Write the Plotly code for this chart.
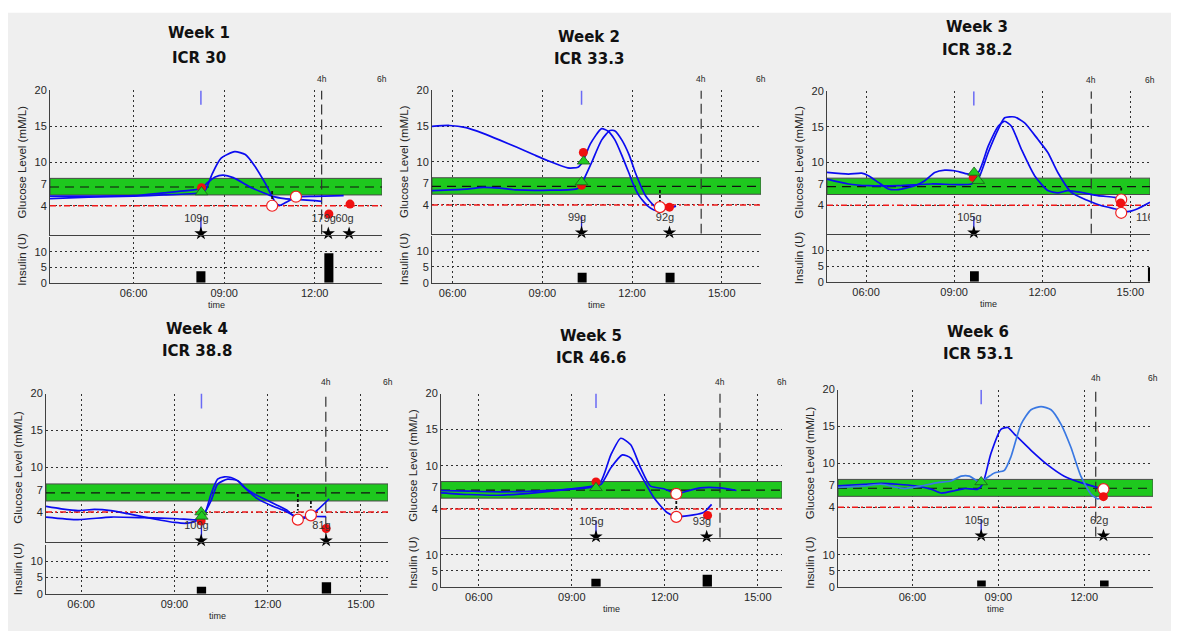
import plotly.graph_objects as go

W, H = 1178, 637

# ---------------- data ----------------
week_titles = ["Week 1", "Week 2", "Week 3", "Week 4", "Week 5", "Week 6"]
icr_titles = ["ICR 30", "ICR 33.3", "ICR 38.2", "ICR 38.8", "ICR 46.6", "ICR 53.1"]
meal_times = [8.23, 10.31, 9.67, 9.87, 9.78, 8.40]

target_low, target_high, target_mid, hypo_level = 5.5, 7.8, 6.6, 4.0
glucose_ticks = [4, 7, 10, 15, 20]
insulin_ticks = [0, 5, 10]
time_tickvals = [6, 9, 12, 15]
time_ticktext = ["06:00", "09:00", "12:00", "15:00"]

# CGM traces (hours, mmol/L)
w1_cgm1_t = [3.23, 4.5, 6.0, 7.0, 8.0, 8.25, 8.4, 8.6, 8.9, 9.35, 9.7, 10.0, 10.35, 10.55, 10.7, 10.85, 11.1, 11.38, 12.0, 12.96]
w1_cgm1_g = [5.0, 5.2, 5.35, 5.5, 5.7, 5.85, 6.3, 8.4, 10.6, 11.5, 11.1, 9.6, 7.2, 5.6, 4.45, 4.05, 4.6, 5.2, 5.3, 5.4]
w1_cgm2_t = [3.23, 4.5, 6.0, 7.0, 8.0, 8.25, 8.45, 8.7, 8.97, 9.3, 9.9, 10.3, 10.6, 11.0, 11.5, 12.0, 12.23]
w1_cgm2_g = [5.35, 5.35, 5.4, 5.8, 6.2, 6.4, 7.2, 8.0, 8.25, 7.9, 6.5, 5.8, 5.3, 5.0, 4.85, 4.7, 4.6]

w2_cgm1_t = [5.31, 5.89, 6.45, 7.02, 7.58, 8.15, 8.72, 9.17, 9.85, 10.19, 10.36, 10.6, 10.98, 11.2, 11.43, 11.65, 11.89, 12.05, 12.23, 12.4, 12.57, 12.79, 12.96]
w2_cgm1_g = [14.98, 15.1, 14.8, 14.0, 13.06, 12.05, 11.0, 10.2, 9.18, 9.27, 10.1, 12.5, 14.66, 14.3, 13.06, 11.0, 8.5, 6.8, 5.3, 4.4, 3.7, 3.24, 3.47]
w2_cgm2_t = [5.31, 6.45, 7.02, 7.58, 8.15, 9.28, 10.19, 10.36, 10.64, 10.98, 11.26, 11.43, 11.66, 11.9, 12.11, 12.45, 12.79, 13.13, 13.47]
w2_cgm2_g = [6.0, 6.2, 6.45, 6.35, 6.1, 6.07, 6.3, 7.35, 9.86, 13.06, 14.4, 14.34, 13.06, 11.0, 8.5, 5.3, 3.7, 3.47, 3.84]

w3_cgm1_t = [4.67, 5.4, 5.85, 6.08, 6.42, 6.76, 7.1, 7.66, 8.0, 8.34, 8.68, 9.02, 9.48, 9.82, 10.16, 10.5, 10.72, 10.95, 11.29, 11.74, 12.19, 12.53, 12.87, 13.33, 13.89, 14.46, 14.68]
w3_cgm1_g = [8.6, 8.37, 8.5, 8.14, 7.2, 6.28, 6.19, 6.74, 7.44, 8.6, 8.93, 8.84, 8.37, 8.6, 12.3, 15.1, 15.8, 15.1, 11.86, 8.14, 6.05, 5.72, 6.05, 5.8, 5.35, 5.1, 4.9]
w3_cgm2_t = [4.67, 5.4, 6.08, 7.1, 8.23, 9.59, 9.82, 10.16, 10.5, 10.72, 11.06, 11.4, 11.85, 12.19, 12.53, 12.99, 13.55, 14.0, 14.46, 14.91, 15.25, 15.67]
w3_cgm2_g = [7.67, 6.98, 6.74, 6.74, 6.98, 6.98, 7.67, 11.4, 14.65, 16.28, 16.4, 15.58, 13.26, 11.4, 8.6, 5.8, 4.65, 3.95, 3.5, 3.1, 3.5, 4.4]

w4_cgm1_t = [4.87, 5.36, 5.9, 6.43, 6.96, 7.5, 8.04, 8.57, 9.0, 9.43, 9.75, 9.96, 10.18, 10.39, 10.61, 10.82, 11.04, 11.25, 11.57, 12.0, 12.32, 12.64, 12.97, 13.39, 13.98]
w4_cgm1_g = [4.76, 4.44, 4.2, 4.36, 4.2, 3.78, 3.33, 2.9, 2.6, 2.5, 2.9, 3.6, 6.44, 8.44, 8.76, 8.67, 8.22, 7.33, 6.44, 5.56, 4.9, 4.2, 3.0, 3.56, 5.8]
w4_cgm2_t = [4.87, 5.9, 6.96, 8.04, 9.1, 9.75, 9.91, 10.18, 10.39, 10.71, 11.04, 11.36, 11.68, 12.11, 12.54, 12.97, 13.39, 13.88]
w4_cgm2_g = [3.33, 2.98, 3.33, 3.24, 3.1, 2.98, 3.5, 5.56, 7.78, 8.44, 8.22, 6.89, 5.78, 4.9, 4.2, 3.3, 3.4, 3.4]

w5_cgm1_t = [4.78, 5.67, 6.74, 7.8, 8.87, 9.62, 9.94, 10.26, 10.58, 10.9, 11.22, 11.54, 11.97, 12.37, 12.71, 13.14, 13.78, 14.31]
w5_cgm1_g = [6.56, 6.47, 6.38, 6.47, 6.7, 7.0, 7.84, 11.5, 13.8, 12.9, 9.7, 7.16, 6.8, 6.1, 6.47, 6.93, 6.93, 6.56]
w5_cgm2_t = [4.78, 5.67, 6.63, 7.8, 8.87, 9.67, 9.94, 10.26, 10.63, 10.9, 11.22, 11.65, 12.07, 12.37, 12.93, 13.25, 13.51]
w5_cgm2_g = [6.24, 6.0, 5.9, 6.24, 6.7, 7.16, 7.4, 9.7, 11.5, 11.06, 8.76, 5.55, 3.5, 2.95, 3.17, 3.5, 4.63]

w6_cgm1_t = [3.4, 4.33, 4.91, 5.49, 6.07, 6.65, 7.0, 7.47, 7.81, 8.28, 8.45, 8.74, 9.09, 9.33, 9.56, 10.14, 10.72, 11.3, 11.88, 12.58]
w6_cgm1_g = [6.92, 7.14, 7.27, 7.14, 6.92, 6.48, 5.95, 6.26, 6.56, 6.48, 7.14, 11.32, 14.6, 14.85, 13.96, 11.76, 9.78, 8.24, 7.36, 6.56]
w6_cgm2_t = [3.4, 4.33, 4.91, 5.72, 6.3, 6.88, 7.35, 7.7, 7.99, 8.28, 8.51, 8.86, 9.21, 9.44, 9.79, 10.14, 10.49, 10.84, 11.19, 11.53, 11.88, 12.23, 12.47, 12.64]
w6_cgm2_g = [6.7, 6.92, 7.14, 6.56, 6.92, 7.36, 7.58, 8.24, 8.24, 7.58, 7.8, 8.68, 9.03, 10.88, 15.29, 17.27, 17.7, 17.27, 15.29, 12.2, 8.24, 5.82, 5.15, 5.37]

# SMBG readings (red filled), predicted (white), meal-time sensor (green triangle)
smbg_t = [[8.25, 12.47, 13.17], [10.37, 10.31, 13.25], [9.65, 14.67], [9.86, 13.88], [9.78, 13.38], [12.67]]
smbg_g = [[6.5, 2.86, 4.23], [11.32, 6.76, 3.7], [7.9, 4.3], [2.8, 1.78], [7.75, 3.1], [5.46]]
pred_t = [[10.59, 11.38], [12.93], [14.69, 14.69], [12.97, 13.39], [12.37, 12.37], [12.67]]
pred_g = [[4.0, 5.26], [3.7], [4.8, 2.93], [2.98, 3.56], [6.1, 2.9], [6.48]]
tri_t = [[8.25], [10.38, 10.31], [9.68, 9.82], [9.86, 9.88], [9.78], [8.40]]
tri_g = [[5.9], [10.1, 7.2], [8.6, 7.44], [4.0, 3.42], [6.93], [7.45]]
# short connector segments (time, top, bottom)
conn_t = [[10.59], [12.93], [14.69], [12.97, 13.39], [12.37], []]
conn_top = [[6.05], [6.1], [6.5], [6.44, 5.5], [5.1], []]
conn_bot = [[4.85], [4.15], [5.8], [4.2, 4.6], [3.7], []]

# carbohydrate intakes
carb_t = [[8.23, 12.45, 13.14], [10.31, 13.25], [9.67, 15.75], [9.86, 13.88], [9.78, 13.35], [8.40, 12.67]]
carb_txt = [["109g", "179g", "60g"], ["99g", "92g"], ["105g", "116g"], ["100g", "81g"], ["105g", "93g"], ["105g", "62g"]]

# insulin boluses
bolus_t = [[8.23, 12.47], [10.33, 13.27], [9.69, 15.75], [9.87, 13.89], [9.78, 13.37], [8.41, 12.7]]
bolus_u = [[3.75, 9.6], [3.2, 3.2], [3.3, 4.6], [2.1, 3.5], [2.5, 3.75], [2.0, 2.0]]

cgm1_t = [w1_cgm1_t, w2_cgm1_t, w3_cgm1_t, w4_cgm1_t, w5_cgm1_t, w6_cgm1_t]
cgm1_g = [w1_cgm1_g, w2_cgm1_g, w3_cgm1_g, w4_cgm1_g, w5_cgm1_g, w6_cgm1_g]
cgm2_t = [w1_cgm2_t, w2_cgm2_t, w3_cgm2_t, w4_cgm2_t, w5_cgm2_t, w6_cgm2_t]
cgm2_g = [w1_cgm2_g, w2_cgm2_g, w3_cgm2_g, w4_cgm2_g, w5_cgm2_g, w6_cgm2_g]

# ---------------- layout (pixels) ----------------
PANEL_PX = [
    (50, 382, 86, 233, 235, 282),
    (432, 761, 86, 232, 234, 282),
    (827, 1150, 87, 232, 233, 281),
    (46, 388, 395, 546, 549, 599),
    (441, 782, 395, 542, 543, 592),
    (838, 1153, 391, 541, 543, 592),
]
TITLE_X = [199, 589, 977, 197, 591, 978]
TITLE_Y = [(28, 53), (32, 54), (21, 45), (329, 352), (336, 359), (332, 355)]

BLUE = "#0c0cf0"
BLUE2 = ["#0c0cf0", "#0c0cf0", "#0c0cf0", "#0c0cf0", "#0c0cf0", "#3a78e2"]
AX = "#404040"
TXT = "#262626"
FONT = "Liberation Sans, Arial, sans-serif"
GRID = dict(showgrid=True, gridcolor="#303030", griddash="2px,3px", gridwidth=1)


def px(x):
    return x / W


def py(y):
    return 1 - y / H


def sfx(n):
    return "" if n == 1 else str(n)


fig = go.Figure()
shapes = []
annotations = []

# gray page background
shapes.append(dict(type="rect", xref="paper", yref="paper", x0=px(8), x1=px(1171), y0=0, y1=py(7),
                   fillcolor="#efefef", line=dict(width=0), layer="below"))

for i in range(6):
    x0p, x1p, gy0, gy1, iy0, iy1 = PANEL_PX[i]
    gn, inn = 2 * i + 1, 2 * i + 2
    gx, gy = "x" + sfx(gn), "y" + sfx(gn)
    ix, iy = "x" + sfx(inn), "y" + sfx(inn)
    meal = meal_times[i]
    xr = [meal - 5, meal + 6]

    common_x = dict(domain=[px(x0p), px(x1p)], range=xr, tickvals=time_tickvals, ticktext=time_ticktext,
                    zeroline=False, showline=True, linecolor=AX, linewidth=1, ticks="", fixedrange=True,
                    tickfont=dict(family=FONT, size=11, color=TXT), **GRID)
    fig.layout["xaxis" + sfx(gn)] = dict(common_x, anchor=gy, showticklabels=False)
    fig.layout["xaxis" + sfx(inn)] = dict(common_x, anchor=iy, showticklabels=True)
    fig.layout["yaxis" + sfx(gn)] = dict(domain=[py(gy1), py(gy0)], range=[0, 20], tickvals=glucose_ticks,
                                         anchor=gx, zeroline=False, showline=True, linecolor=AX, linewidth=1,
                                         ticks="", tickfont=dict(family=FONT, size=11, color=TXT), **GRID)
    fig.layout["yaxis" + sfx(inn)] = dict(domain=[py(iy1), py(iy0)], range=[0, 15], tickvals=insulin_ticks,
                                          anchor=ix, zeroline=False, showline=True, linecolor=AX, linewidth=1,
                                          ticks="", tickfont=dict(family=FONT, size=11, color=TXT), **GRID)

    # target band and reference lines (as traces so they sit above the grid)
    fig.add_trace(go.Scatter(x=[xr[0], xr[1], xr[1], xr[0], xr[0]],
                             y=[target_low, target_low, target_high, target_high, target_low],
                             mode="lines", fill="toself", fillcolor="#1ec81e", xaxis=gx, yaxis=gy,
                             line=dict(color="#4a4a4a", width=1), hoverinfo="skip"))
    fig.add_trace(go.Scatter(x=xr, y=[target_mid, target_mid], mode="lines", xaxis=gx, yaxis=gy,
                             line=dict(color="#111111", width=1.2, dash="9px,6px"), hoverinfo="skip"))
    fig.add_trace(go.Scatter(x=xr, y=[hypo_level, hypo_level], mode="lines", xaxis=gx, yaxis=gy,
                             line=dict(color="#f01818", width=1.5, dash="6px,3px,2px,3px"), hoverinfo="skip"))
    fig.add_trace(go.Scatter(x=[meal + 4, meal + 4], y=[0, 20], mode="lines", xaxis=gx, yaxis=gy,
                             line=dict(color="#303030", width=1.2, dash="10px,5px"), hoverinfo="skip"))

    # CGM curves
    fig.add_trace(go.Scatter(x=cgm1_t[i], y=cgm1_g[i], mode="lines", xaxis=gx, yaxis=gy,
                             line=dict(color=BLUE, width=1.7, shape="spline", smoothing=0.6)))
    fig.add_trace(go.Scatter(x=cgm2_t[i], y=cgm2_g[i], mode="lines", xaxis=gx, yaxis=gy,
                             line=dict(color=BLUE2[i], width=1.7, shape="spline", smoothing=0.6)))

    # meal marker tick at top and stem at bottom
    fig.add_trace(go.Scatter(x=[meal, meal], y=[18, 20], mode="lines", xaxis=gx, yaxis=gy,
                             line=dict(color="#6a6af5", width=1.5)))
    fig.add_trace(go.Scatter(x=[meal, meal], y=[0, 2.4], mode="lines", xaxis=gx, yaxis=gy,
                             line=dict(color="#2020d0", width=1.3)))

    # connectors
    for ct, c1, c2 in zip(conn_t[i], conn_top[i], conn_bot[i]):
        fig.add_trace(go.Scatter(x=[ct, ct], y=[c1, c2], mode="lines", xaxis=gx, yaxis=gy,
                                 line=dict(color="#111111", width=1.8, dash="3px,2px")))

    # markers
    fig.add_trace(go.Scatter(x=pred_t[i], y=pred_g[i], mode="markers", xaxis=gx, yaxis=gy,
                             marker=dict(symbol="circle", size=11, color="white",
                                         line=dict(color="#f02020", width=1.2))))
    fig.add_trace(go.Scatter(x=smbg_t[i], y=smbg_g[i], mode="markers", xaxis=gx, yaxis=gy,
                             marker=dict(symbol="circle", size=9, color="#f01010", line=dict(width=0))))
    fig.add_trace(go.Scatter(x=tri_t[i], y=tri_g[i], mode="markers", xaxis=gx, yaxis=gy,
                             marker=dict(symbol="triangle-up", size=11, color="#22cc22",
                                         line=dict(color="#1a5a1a", width=0.8))))

    # carbs: stars and labels
    star_x = [t for t in carb_t[i] if xr[0] <= t <= xr[1]]
    fig.add_trace(go.Scatter(x=star_x, y=[0.15] * len(star_x), mode="markers", xaxis=gx, yaxis=gy,
                             cliponaxis=False,
                             marker=dict(symbol="star", size=10, color="black", line=dict(width=0))))
    fig.add_trace(go.Scatter(x=[t - 0.15 for t in carb_t[i]], y=[2.1] * len(carb_t[i]), mode="text",
                             text=carb_txt[i], textposition="middle center", xaxis=gx, yaxis=gy,
                             cliponaxis=True, textfont=dict(family=FONT, size=11, color="#333333")))

    # insulin bars
    fig.add_trace(go.Bar(x=bolus_t[i], y=bolus_u[i], width=0.3, xaxis=ix, yaxis=iy,
                         marker=dict(color="black", line=dict(width=0))))

    # texts
    annotations.append(dict(xref="paper", yref="paper", x=px(TITLE_X[i]), y=py(TITLE_Y[i][0]),
                            text=f"<b>{week_titles[i]}</b>", showarrow=False, xanchor="center", yanchor="middle",
                            font=dict(family="DejaVu Sans", size=15, color="#111111")))
    annotations.append(dict(xref="paper", yref="paper", x=px(TITLE_X[i]), y=py(TITLE_Y[i][1]),
                            text=f"<b>{icr_titles[i]}</b>", showarrow=False, xanchor="center", yanchor="middle",
                            font=dict(family="DejaVu Sans", size=15, color="#111111")))
    annotations.append(dict(xref="paper", yref="paper", x=px(x0p - 28), y=py((gy0 + gy1) / 2),
                            text="Glucose Level (mM/L)", textangle=-90, showarrow=False,
                            xanchor="center", yanchor="middle", font=dict(family=FONT, size=11.5, color=TXT)))
    annotations.append(dict(xref="paper", yref="paper", x=px(x0p - 28), y=py((iy0 + iy1) / 2),
                            text="Insulin (U)", textangle=-90, showarrow=False,
                            xanchor="center", yanchor="middle", font=dict(family=FONT, size=11.5, color=TXT)))
    annotations.append(dict(xref="paper", yref="paper", x=px((x0p + x1p) / 2), y=py(iy1 + 23),
                            text="time", showarrow=False, xanchor="center", yanchor="middle",
                            font=dict(family=FONT, size=9, color=TXT)))
    for lab, off in (("4h", 4), ("6h", 6)):
        annotations.append(dict(xref=gx, yref="paper", x=meal + off, y=py(gy0 - 12),
                                text=lab, showarrow=False, xanchor="center", yanchor="middle",
                                font=dict(family=FONT, size=8.5, color=TXT)))

fig.update_layout(width=W, height=H, margin=dict(l=0, r=0, t=0, b=0), paper_bgcolor="white",
                  plot_bgcolor="white", showlegend=False, shapes=shapes, annotations=annotations)
fig.write_html("out.html")
